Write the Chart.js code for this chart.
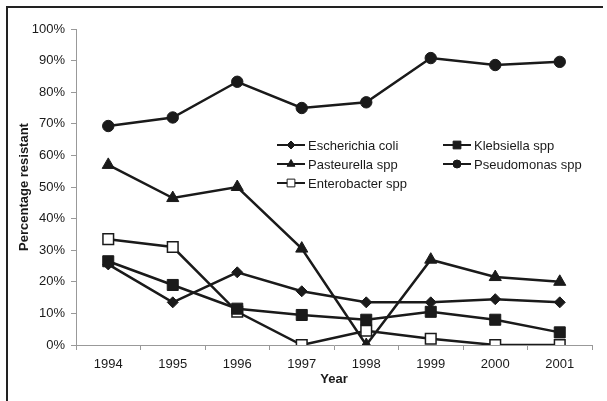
<!DOCTYPE html>
<html>
<head>
<meta charset="utf-8">
<script src="https://cdn.jsdelivr.net/npm/chart.js@4/dist/chart.umd.min.js"></script>
<style>
  html, body { margin: 0; padding: 0; background: #fff; }
  #wrap { position: relative; width: 607px; height: 401px; }
  #frame { position: absolute; left: 6px; top: 6px; width: 595px; height: 395px;
           border-left: 2px solid #222; border-top: 2px solid #222; pointer-events: none; }
  canvas { position: absolute; left: 0; top: 0; }
</style>
</head>
<body>
<div id="wrap">
  <canvas id="c" width="607" height="401"></canvas>
  <div id="frame"></div>
</div>
<script>
const years = ['1994', '1995', '1996', '1997', '1998', '1999', '2000', '2001'];
const seriesNames = ['Escherichia coli', 'Klebsiella spp', 'Pasteurella spp', 'Pseudomonas spp', 'Enterobacter spp'];
const ecoli = [25.5, 13.5, 23, 17, 13.5, 13.5, 14.5, 13.5];
const klebsiella = [26.5, 19, 11.5, 9.5, 8, 10.5, 8, 4];
const pasteurella = [57, 46.5, 50, 30.5, 0, 27, 21.5, 20];
const pseudomonas = [69.3, 72, 83.3, 75, 76.8, 90.8, 88.6, 89.6];
const enterobacter = [33.5, 31, 10.5, 0, 4.5, 2, 0, 0];
const yTicks = [0, 10, 20, 30, 40, 50, 60, 70, 80, 90, 100];

const FONT = 'Liberation Sans, Arial, Helvetica, sans-serif';
const INK = '#1a1a1a';

function ds(label, data, style, radius, legendRadius, fill) {
  return {
    label, data,
    borderColor: INK, borderWidth: 2.5,
    pointStyle: style, pointRadius: radius, pointHoverRadius: radius,
    pointBackgroundColor: fill || INK, pointBorderColor: INK,
    pointBorderWidth: fill ? 1.5 : 1,
    legendRadius,
    tension: 0, fill: false
  };
}

const datasets = [
  ds(seriesNames[0], ecoli, 'rectRot', 5.5, 4),
  ds(seriesNames[1], klebsiella, 'rect', 7.8, 5.5),
  ds(seriesNames[2], pasteurella, 'triangle', 7, 4.5),
  ds(seriesNames[3], pseudomonas, 'circle', 5.7, 4),
  ds(seriesNames[4], enterobacter, 'rect', 7.5, 5.5, '#ffffff')
];

const legendPlugin = {
  id: 'customLegend',
  afterDatasetsDraw(chart) {
    const ctx = chart.ctx;
    const cols = [277, 443];
    const rows = [145, 164, 183];
    ctx.save();
    ctx.font = '13px ' + FONT;
    ctx.textBaseline = 'middle';
    ctx.textAlign = 'left';
    chart.data.datasets.forEach((d, i) => {
      const x = cols[i % 2], y = rows[Math.floor(i / 2)];
      ctx.strokeStyle = INK;
      ctx.lineWidth = 2;
      ctx.beginPath();
      ctx.moveTo(x, y); ctx.lineTo(x + 28, y);
      ctx.stroke();
      ctx.fillStyle = d.pointBackgroundColor;
      ctx.lineWidth = 1;
      Chart.helpers.drawPoint(ctx, { pointStyle: d.pointStyle, radius: d.legendRadius, borderWidth: 1, rotation: 0 }, x + 14, y);
      ctx.fillStyle = INK;
      ctx.fillText(d.label, x + 31, y + 1);
    });
    ctx.restore();
  }
};

new Chart(document.getElementById('c'), {
  type: 'line',
  data: { labels: years, datasets },
  plugins: [legendPlugin],
  options: {
    responsive: false,
    animation: false,
    layout: { padding: { left: 17, right: 15, top: 29, bottom: 14 } },
    plugins: { legend: { display: false }, tooltip: { enabled: false } },
    scales: {
      x: {
        type: 'category',
        offset: true,
        afterFit(scale) { scale.height = 42; },
        grid: { offset: true, drawOnChartArea: false, drawTicks: true, tickLength: 5, color: '#999' },
        border: { color: '#999', width: 1 },
        ticks: { color: INK, font: { family: FONT, size: 13 }, padding: 7, maxRotation: 0 },
        title: { display: true, text: 'Year', color: INK, font: { family: FONT, size: 13, weight: 'bold' }, padding: { top: 0, bottom: 0 } }
      },
      y: {
        min: 0, max: 100,
        afterFit(scale) { scale.width = 59; },
        afterBuildTicks(scale) { scale.ticks = yTicks.map(v => ({ value: v })); },
        grid: { drawOnChartArea: false, drawTicks: true, tickLength: 5, color: '#999' },
        border: { color: '#999', width: 1 },
        ticks: { color: INK, font: { family: FONT, size: 13 }, padding: 6, callback: v => v + '%' },
        title: { display: true, text: 'Percentage resistant', color: INK, font: { family: FONT, size: 13, weight: 'bold' }, padding: { top: 0, bottom: 4 } }
      }
    }
  }
});
</script>
</body>
</html>
